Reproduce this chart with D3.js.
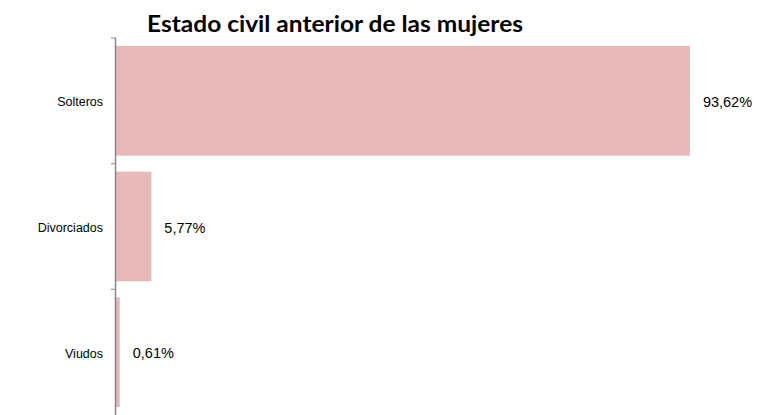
<!DOCTYPE html>
<html>
<head>
<meta charset="utf-8">
<script src="https://cdn.jsdelivr.net/npm/d3@7"></script>
<style>
    body { margin: 0; background: #fff; }
    svg { display: block; }
</style>
</head>
<body>
<div id="root"></div>
<script>
const categories = ["Solteros", "Divorciados", "Viudos"]
const values = [93.62, 5.77, 0.61]
const valueLabels = ["93,62%", "5,77%", "0,61%"]
const title = "Estado civil anterior de las mujeres"

const W = 767, H = 415
const pad = 0.127

const svg = d3.select("#root").append("svg")
    .attr("width", W)
    .attr("height", H)

const x = d3.scaleLinear().domain([0, 100]).range([116, 729])
const y = d3.scaleBand().domain(categories).range([38, 415])
    .paddingInner(pad).paddingOuter(pad / 2)
const step = y.step()

const data = categories.map((c, i) => ({cat: c, val: values[i], label: valueLabels[i]}))

// bars
svg.selectAll("rect.bar")
    .data(data)
    .join("rect")
    .attr("class", "bar")
    .attr("x", x(0))
    .attr("y", d => y(d.cat))
    .attr("width", d => x(d.val) - x(0))
    .attr("height", y.bandwidth())
    .attr("fill", "#e6b8b7")

// value labels
svg.selectAll("text.val")
    .data(data)
    .join("text")
    .attr("class", "val")
    .attr("x", d => x(d.val) + 13)
    .attr("y", d => y(d.cat) + y.bandwidth() / 2 + 1)
    .attr("dy", "0.35em")
    .attr("font-family", "Liberation Sans, Arial, sans-serif")
    .attr("font-size", 14.5)
    .attr("fill", "#000")
    .text(d => d.label)

// axis line + ticks at category boundaries
const axisG = svg.append("g")
axisG.append("line")
    .attr("x1", x(0) - 0.5).attr("x2", x(0) - 0.5)
    .attr("y1", y.range()[0]).attr("y2", y.range()[1])
    .attr("stroke", "#868686")
    .attr("stroke-width", 1.5)
const bounds = d3.range(categories.length).map(i => y.range()[0] + i * step)
axisG.selectAll("line.tick")
    .data(bounds)
    .join("line")
    .attr("class", "tick")
    .attr("x1", x(0) - 5).attr("x2", x(0))
    .attr("y1", d => d).attr("y2", d => d)
    .attr("stroke", "#868686")
    .attr("stroke-width", 1)

// category labels
axisG.selectAll("text.cat")
    .data(categories)
    .join("text")
    .attr("class", "cat")
    .attr("x", 103)
    .attr("y", d => y(d) + y.bandwidth() / 2 + 1)
    .attr("dy", "0.35em")
    .attr("text-anchor", "end")
    .attr("font-family", "Liberation Sans, Arial, sans-serif")
    .attr("font-size", 12.5)
    .attr("fill", "#000")
    .text(d => d)

// title
svg.append("text")
    .attr("x", 147)
    .attr("y", 32)
    .attr("font-family", "Lato, sans-serif")
    .attr("font-weight", "bold")
    .attr("font-size", 22)
    .attr("textLength", 376)
    .attr("lengthAdjust", "spacingAndGlyphs")
    .attr("fill", "#000")
    .text(title)
</script>
</body>
</html>
